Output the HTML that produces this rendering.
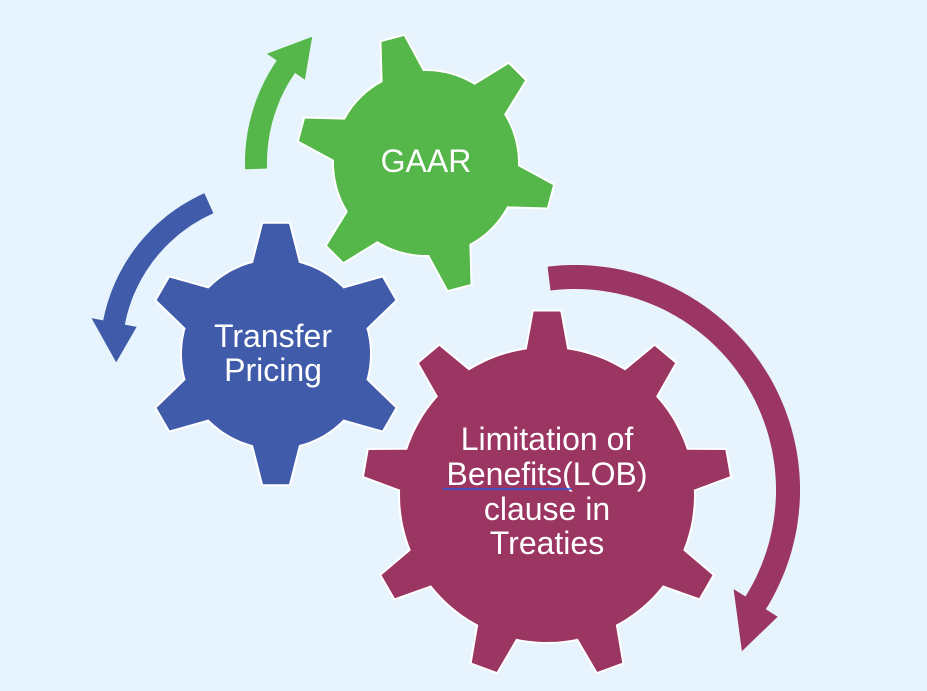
<!DOCTYPE html>
<html><head><meta charset="utf-8"><style>
html,body{margin:0;padding:0;background:#e8f4fd;}
svg{display:block}
text{font-family:"Liberation Sans",Arial,sans-serif;fill:#fff;}
</style></head><body>
<svg id="s" width="927" height="691" viewBox="0 0 927 691" xmlns="http://www.w3.org/2000/svg">
<rect width="927" height="691" fill="#e8f4fd"/>
<g id="g"></g>
<text x="426" y="172" font-size="32" text-anchor="middle">GAAR</text>
<text x="273" y="347" font-size="32" text-anchor="middle">Transfer</text>
<text x="273" y="381" font-size="32" text-anchor="middle">Pricing</text>
<text x="547" y="450" font-size="32" text-anchor="middle">Limitation of</text>
<text x="547" y="485" font-size="32" text-anchor="middle">Benefits(LOB)</text>
<line x1="443" y1="489" x2="572" y2="489" stroke="#2b55d6" stroke-width="1.5"/>
<text x="547" y="520" font-size="32" text-anchor="middle">clause in</text>
<text x="547" y="554" font-size="32" text-anchor="middle">Treaties</text>
</svg>
<script>
var R=Math.PI/180,g=document.getElementById('g'),ns='http://www.w3.org/2000/svg';
function P(cx,cy,r,a){return [(cx+r*Math.cos(a*R)).toFixed(1),(cy+r*Math.sin(a*R)).toFixed(1)].join(',');}
function gear(cx,cy,n,off,rb,rt,bh,th,col){
 var pts=[],st=360/n;
 for(var k=0;k<n;k++){var a=off+k*st;
  pts.push(P(cx,cy,rb,a-bh));pts.push(P(cx,cy,rt,a-th));pts.push(P(cx,cy,rt,a+th));pts.push(P(cx,cy,rb,a+bh));
  for(var b=a+bh+2;b<a+st-bh;b+=2)pts.push(P(cx,cy,rb,b));}
 var p=document.createElementNS(ns,'polygon');p.setAttribute('points',pts.join(' '));
 p.setAttribute('fill',col);p.setAttribute('stroke','#fff');p.setAttribute('stroke-width','2');g.appendChild(p);}
function arrow(cx,cy,r,w,a0,a1,hl,hw,col,tr){
 var d=a1>a0?1:-1,ae=a1-d*hl,o=[],i=[],s;tr=tr||r;
 for(s=a0;d*(ae-s)>0;s+=d)o.push(P(cx,cy,r+w/2,s)),i.push(P(cx,cy,r-w/2,s));
 o.push(P(cx,cy,r+w/2,ae));i.push(P(cx,cy,r-w/2,ae));
 var pts=o.concat([P(cx,cy,r+hw,ae),P(cx,cy,tr,a1),P(cx,cy,r-hw,ae)],i.reverse());
 var p=document.createElementNS(ns,'polygon');p.setAttribute('points',pts.join(' '));p.setAttribute('fill',col);g.appendChild(p);}
arrow(426,163,170,22,178,228,13.5,23,'#55b74a');
arrow(276,354,165,22,246,177,14,23,'#3f5ba9',160);
arrow(575,490,213,24,-97,44,12,26,'#9b3662',232);
gear(426,163,6,15,93,130,13.5,5.5,'#55b74a');
gear(276,354,6,-90,95,132,14.5,6,'#3f5ba9');
gear(547,495,9,-90,148,185,8.2,4.4,'#9b3662');
</script>
</body></html>
